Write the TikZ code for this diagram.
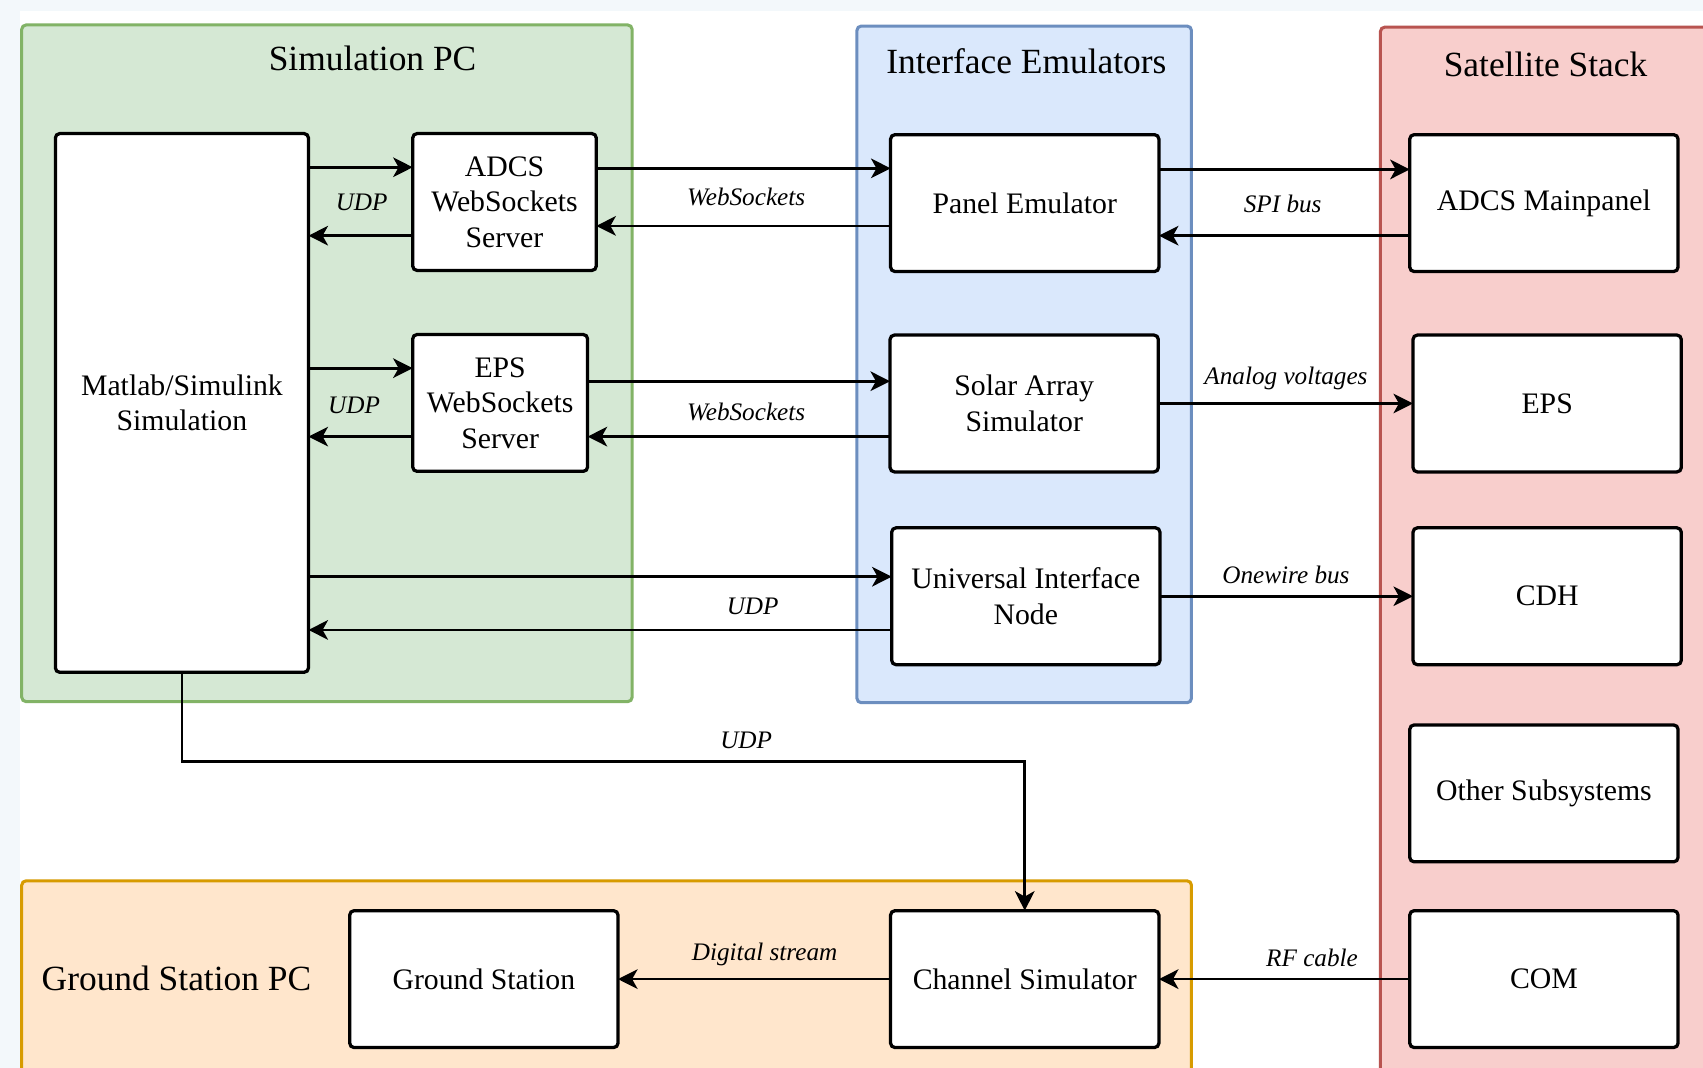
\documentclass[tikz,border=0pt]{standalone}
\usepackage{fontspec}
\setmainfont{Liberation Serif}
\usepackage{xcolor}
\usetikzlibrary{arrows.meta,positioning}

\definecolor{strip}{HTML}{F3F8FB}
\definecolor{simfill}{HTML}{D5E8D4}
\definecolor{simline}{HTML}{82B366}
\definecolor{emufill}{HTML}{DAE8FC}
\definecolor{emuline}{HTML}{6C8EBF}
\definecolor{satfill}{HTML}{F8CECC}
\definecolor{satline}{HTML}{B85450}
\definecolor{gsfill}{HTML}{FFE6CC}
\definecolor{gsline}{HTML}{D79B00}

\begin{document}
\begin{tikzpicture}[x=0.5pt,y=-0.5pt,
  box/.style={draw,line width=1.5pt,rounded corners=2pt,fill=white,outer sep=0pt,
    minimum width=123.5pt,minimum height=63pt,align=center,inner sep=2pt,
    font=\fontsize{13.7}{16.3}\selectfont},
  grp/.style={line width=1.4pt,rounded corners=2pt},
  title/.style={font=\fontsize{16.3}{19.6}\selectfont},
  lbl/.style={font=\itshape\fontsize{11.6}{14}\selectfont},
  arr/.style={line width=1.25pt,-{Stealth[length=9pt,width=9pt,inset=2.5pt]}}]
  \useasboundingbox (0,0) rectangle (1568,983);
  \clip (0,0) rectangle (1568,983);
  \fill[strip] (0,0) rectangle (1568,983);
  \fill[white] (18.4,10) rectangle (1568,983);

  % groups
  \draw[grp,fill=simfill,draw=simline] (20,23) rectangle (582,646);
  \draw[grp,fill=emufill,draw=emuline] (789,24) rectangle (1097,647);
  \draw[grp,fill=satfill,draw=satline] (1271,25) rectangle (1600,1010);
  \draw[grp,fill=gsfill,draw=gsline] (20,811) rectangle (1097,1010);
  \node[title] (simpc) at (343,54) {Simulation PC};
  \node[title] (ifemu) at (945,56) {Interface Emulators};
  \node[title] (satstack) at (1423,59) {Satellite Stack};
  \node[title,anchor=west,inner sep=0pt] (gspc) at (38,901) {Ground Station PC};

  % blocks
  \node[box,minimum width=116.5pt,minimum height=248pt] (matlab) at (167.5,371) {Matlab/Simulink\\Simulation};
  \node[box,minimum width=84.5pt] (adcsws) at (464.5,186) {ADCS\\WebSockets\\Server};
  \node[box,minimum width=80.5pt] (epsws) at (460.5,371) {EPS\\WebSockets\\Server};
  \node[box] (panel) at (943.5,187) {Panel Emulator};
  \node[box] (solar) at (943,371.5) {Solar Array\\Simulator};
  \node[box] (uin) at (944.5,549) {Universal Interface\\Node};
  \node[box] (mainpanel) at (1421.5,187) {ADCS Mainpanel};
  \node[box] (eps) at (1424.5,371.5) {EPS};
  \node[box] (cdh) at (1424.5,549) {CDH};
  \node[box] (other) at (1421.5,730.5) {Other Subsystems};
  \node[box] (com) at (1421.5,901.5) {COM};
  \node[box] (gs) at (445.5,901.5) {Ground Station};
  \node[box] (channel) at (943.5,901.5) {Channel Simulator};

  % links
  \draw[arr] (matlab.east |- 0,154) -- (adcsws.west |- 0,154);
  \draw[arr] (adcsws.west |- 0,217) -- (matlab.east |- 0,217);
  \draw[arr] (matlab.east |- 0,339) -- (epsws.west |- 0,339);
  \draw[arr] (epsws.west |- 0,402) -- (matlab.east |- 0,402);
  \draw[arr] (adcsws.east |- 0,155) -- (panel.west |- 0,155);
  \draw[arr] (panel.west |- 0,208) -- (adcsws.east |- 0,208);
  \draw[arr] (epsws.east |- 0,351) -- (solar.west |- 0,351);
  \draw[arr] (solar.west |- 0,402) -- (epsws.east |- 0,402);
  \draw[arr] (matlab.east |- 0,531) -- (uin.west |- 0,531);
  \draw[arr] (uin.west |- 0,580) -- (matlab.east |- 0,580);
  \draw[arr] (panel.east |- 0,156) -- (mainpanel.west |- 0,156);
  \draw[arr] (mainpanel.west |- 0,217) -- (panel.east |- 0,217);
  \draw[arr] (solar.east) -- (eps.west |- solar.east);
  \draw[arr] (uin.east) -- (cdh.west |- uin.east);
  \draw[arr] (matlab.south) -- (matlab.south |- 0,701) -| (channel.north);
  \draw[arr] (channel.west) -- (gs.east);
  \draw[arr] (com.west) -- (channel.east);

  % link labels
  \node[lbl] (udpa) at (333,186) {UDP};
  \node[lbl] (udpb) at (326,373) {UDP};
  \node[lbl] (wsa) at (687,181) {WebSockets};
  \node[lbl] (wsb) at (687,379) {WebSockets};
  \node[lbl] (udpc) at (693,558) {UDP};
  \node[lbl] (spi) at (1181,188) {SPI bus};
  \node[lbl] (analog) at (1184,348) {Analog voltages};
  \node[lbl] (onewire) at (1184,529) {Onewire bus};
  \node[lbl] (udpd) at (687,682) {UDP};
  \node[lbl] (digital) at (704,879) {Digital stream};
  \node[lbl] (rf) at (1208,882) {RF cable};
\end{tikzpicture}
\end{document}
